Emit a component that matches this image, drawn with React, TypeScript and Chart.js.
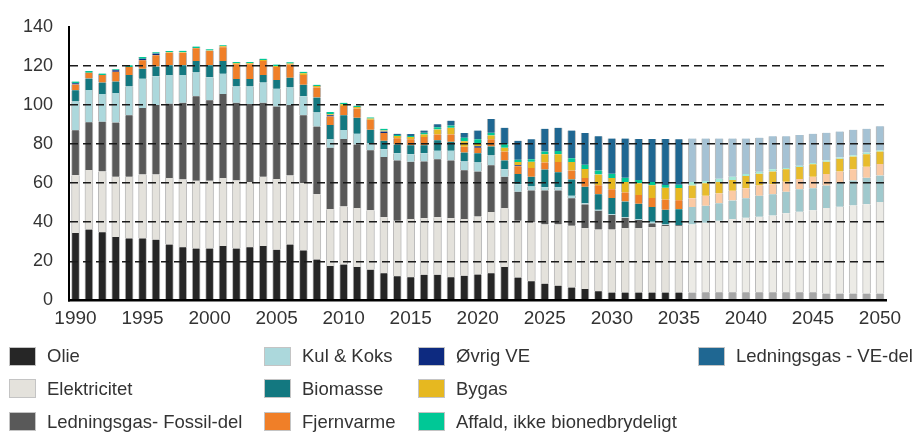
import React, { useEffect, useRef } from "react";
import { Chart, registerables } from "chart.js";

Chart.register(...registerables);

const years = [
  "1990", "1991", "1992", "1993", "1994", "1995", "1996", "1997", "1998", "1999",
  "2000", "2001", "2002", "2003", "2004", "2005", "2006", "2007", "2008", "2009",
  "2010", "2011", "2012", "2013", "2014", "2015", "2016", "2017", "2018", "2019",
  "2020", "2021", "2022", "2023", "2024", "2025", "2026", "2027", "2028", "2029",
  "2030", "2031", "2032", "2033", "2034", "2035", "2036", "2037", "2038", "2039",
  "2040", "2041", "2042", "2043", "2044", "2045", "2046", "2047", "2048", "2049",
  "2050",
];
const xTickLabels = ["1990", "1995", "2000", "2005", "2010", "2015", "2020", "2025", "2030", "2035", "2040", "2045", "2050"];
const yTicks = [0, 20, 40, 60, 80, 100, 120, 140];
const FORECAST_START = 2036;

const olie = [
  34.5, 36.3, 34.9, 32.4, 31.75, 31.75, 31.1, 28.6, 27.25, 26.6,
  26.6, 27.9, 26.6, 27.25, 27.9, 25.9, 28.6, 25.6, 20.9, 17.6,
  18.4, 17.1, 15.75, 13.9, 12.4, 11.9, 13.1, 13.1, 11.9, 12.6,
  13.25, 13.9, 17.1, 11.75, 9.9, 8.6, 7.6, 6.6, 5.9, 4.75,
  4.1, 4.1, 4.1, 4.1, 4.1, 4.1, 4.1, 4.2, 4.2, 4.2,
  4.2, 4.2, 4.2, 4.2, 4.2, 4.2, 3.6, 3.6, 3.6, 3.6,
  3.6,
];
const elektricitet = [
  29.5, 30.35, 31.1, 30.85, 31.5, 32.65, 33.3, 34, 34.65, 34.65,
  34.65, 34.7, 34.8, 33.35, 35.35, 36.2, 35.3, 34.5, 33.35, 29,
  29.7, 30.15, 30.35, 28.7, 28.35, 29.7, 29, 29.5, 30.2, 29,
  29.65, 31.35, 30, 29, 30, 30.3, 31.3, 31.65, 31, 31.5,
  32.15, 32.8, 32.8, 33.3, 34, 34, 34.8, 35.55, 36.55, 37.4,
  38.05, 38.55, 39.2, 40.4, 41.2, 41.9, 43.65, 44.3, 45, 45.65,
  46.8,
];
const ledningsgasFossil = [
  23, 24.4, 25.4, 27.75, 31.5, 34, 35.5, 38, 39.2, 43.15,
  41.15, 43, 39.7, 39.8, 37.85, 37, 36, 34.65, 34.65, 31.5,
  34.5, 32.5, 30.65, 30.8, 30.85, 29.3, 29, 29.65, 29.5, 25,
  23, 23.85, 16.15, 14.85, 16.35, 17.35, 17.35, 14, 12.2, 9.65,
  7.5, 5.35, 4.2, 2, 0.5, 0.3, 0, 0, 0, 0,
  0, 0, 0, 0, 0, 0, 0, 0, 0, 0,
  0,
];
const kulKoks = [
  14.7, 16.6, 14.2, 15.1, 14.65, 15, 14.7, 14.65, 14.15, 12.2,
  11.7, 10.3, 8.3, 9, 10.3, 9.15, 9, 9.65, 7.2, 4.5,
  4.5, 5.5, 3.5, 3.85, 3.65, 3.85, 4.15, 4.35, 5, 4.5,
  4.7, 5, 3.85, 3.8, 2, 1.65, 1.65, 1.35, 0.65, 0.5,
  0.35, 0.35, 0.5, 0.85, 0.3, 0, 0, 0, 0, 0,
  0, 0, 0, 0, 0, 0, 0, 0, 0, 0,
  0,
];
const biomasse = [
  5.8, 5.8, 5.8, 5.8, 5.85, 5, 5, 5, 5, 5.8,
  6.15, 6.5, 3.85, 3.85, 3.85, 4.5, 5, 5.85, 7.65, 7.15,
  7.65, 8.15, 7, 4.35, 4.5, 4.65, 4.15, 5.3, 4.5, 4.5,
  4.65, 4.65, 4.5, 5.2, 5, 9, 7.7, 8.3, 8.35, 7.85,
  8.3, 8, 7.8, 7.5, 7.5, 8.3, 8.85, 8.65, 9, 9.5,
  10, 10.85, 10.85, 11, 11.5, 11.3, 11.5, 12.2, 12.8, 13.5,
  13.5,
];
const fjernvarme = [
  2.9, 3, 3.85, 5, 4.15, 4.35, 5.8, 6.35, 6.35, 6.5,
  7.35, 7, 7.5, 7.5, 7.15, 6.65, 6.7, 5, 5.15, 4.35,
  4.65, 4.7, 5.15, 4, 3.15, 3, 4.2, 3, 3.8, 3,
  2.85, 3.65, 4.5, 4, 4.5, 3.7, 5.15, 4.5, 4.5, 4.65,
  4.5, 4.65, 4.5, 4.65, 5.2, 4.5, 4.5, 5.1, 5, 5,
  5.15, 5.15, 5.15, 5.15, 5.2, 5.85, 5.85, 5.8, 5.7, 5.65,
  5.85,
];
const oevrigVE = [
  0.7, 0, 0, 0.8, 0, 0.85, 0.85, 0, 0, 0,
  0, 0, 0, 0, 0, 0, 0, 0, 0, 0.65,
  0, 0, 0, 0.8, 0, 0, 0, 0, 0, 0,
  0.8, 0, 0, 0.5, 0, 0, 0, 0, 0, 0,
  0, 0, 0, 0, 0, 0, 0, 0, 0, 0,
  0, 0, 0, 0, 0, 0, 0, 0, 0, 0,
  0,
];
const bygas = [
  0, 0, 0, 0, 0, 0, 0, 0.3, 0.3, 0.2,
  0.2, 0.6, 0.5, 0.5, 0.5, 0.5, 0.5, 0.85, 0.7, 0.5,
  0.85, 0.8, 0.6, 0.5, 1.2, 1.2, 1.3, 2.5, 3.35, 2.8,
  1.5, 2, 2, 1.65, 3.15, 4.15, 4, 4.35, 4.65, 5.5,
  5.7, 5.35, 6, 6.5, 6, 6.35, 6.5, 6.4, 5.85, 5.5,
  6.2, 6, 6.5, 6.35, 6.15, 6.35, 6.3, 6.5, 6.5, 6.35,
  6.35,
];
const affald = [
  0.8, 0.8, 0.8, 0.5, 0.85, 0.8, 0.65, 0.6, 0.7, 0.7,
  0.65, 0.5, 0.65, 0.65, 0.7, 0.7, 0.65, 0.8, 0.65, 1.15,
  0.85, 0.7, 0.6, 0.85, 0.5, 0.5, 0.85, 1.2, 1.15, 1.85,
  2, 1.35, 1.8, 1.15, 1.35, 1.35, 1.65, 2, 2.15, 2,
  2.15, 2.15, 1.7, 1.65, 1.5, 1.65, 1.85, 1.2, 1.65, 1.65,
  1, 1, 1.2, 0.65, 0.65, 0.65, 0.7, 0.7, 0.65, 0.85,
  0.65,
];
const ledningsgasVE = [
  0, 0, 0, 0, 0, 0, 0, 0, 0, 0,
  0, 0, 0, 0, 0, 0, 0, 0, 0, 0,
  0, 0, 0, 0, 0.65, 1, 1.15, 1.5, 2.5, 2.35,
  4.5, 7, 8.35, 9.7, 10.15, 11.65, 11.85, 14.15, 16.2, 17.5,
  18, 20, 21, 22, 23.5, 23.2, 22.15, 21.65, 20.5, 19.5,
  18.15, 17.5, 16.8, 16.15, 15.7, 15, 14.15, 13.3, 13, 12.15,
  12.35,
];

const seriesLabels = [
  "Olie", "Elektricitet", "Ledningsgas- Fossil-del", "Kul & Koks", "Biomasse",
  "Fjernvarme", "Øvrig VE", "Bygas", "Affald, ikke bionedbrydeligt", "Ledningsgas - VE-del",
];
const seriesData = [olie, elektricitet, ledningsgasFossil, kulKoks, biomasse, fjernvarme, oevrigVE, bygas, affald, ledningsgasVE];
const seriesColors = ["#262626", "#e4e2dc", "#595959", "#acd8dc", "#137880", "#f07f28", "#0d2a80", "#e6b820", "#00c896", "#1f6792"];
const seriesFaded = ["#a6a6a6", "#ecebe6", "#b0b0b0", "#d3ebed", "#a0c9cd", "#fbcaa4", "#9aa6cc", "#e8bc2c", "#a3ead7", "#a5c2d4"];

// legend layout: column, row for each series
const legendCol = [0, 0, 0, 1, 1, 1, 2, 2, 2, 3];
const legendRow = [0, 1, 2, 0, 1, 2, 0, 1, 2, 0];
const legendColX = [9, 264, 418, 698];
const legendRowY = [356, 388.5, 421.5];

const FONT = '"Liberation Sans", Arial, sans-serif';
const TEXT = "#333333";

export default function App() {
  const ref = useRef<HTMLCanvasElement>(null);

  useEffect(() => {
    const canvas = ref.current;
    if (!canvas) return;
    const datasets = seriesLabels.map((label, i) => ({
      label,
      data: seriesData[i],
      backgroundColor: years.map((y) => (Number(y) >= FORECAST_START ? seriesFaded[i] : seriesColors[i])),
      borderColor: "rgba(150,150,150,0.65)",
      borderWidth: { left: 1, right: 1, top: 0, bottom: 0 },
      barThickness: 8,
      stack: "s",
    }));
    const chart = new Chart(canvas, {
      type: "bar",
      data: { labels: years, datasets },
      options: {
        responsive: false,
        animation: false,
        devicePixelRatio: 1,
        layout: { padding: { left: 0, right: 29.3, top: 20.5, bottom: 102.5 } },
        plugins: {
          legend: { display: false },
          tooltip: { enabled: false },
          title: { display: false },
        },
        scales: {
          x: {
            stacked: true,
            grid: { display: false, drawTicks: false },
            border: { display: true, color: "#000", width: 2.5, z: 1 },
            ticks: {
              autoSkip: false,
              maxRotation: 0,
              minRotation: 0,
              padding: 7,
              color: TEXT,
              font: { family: FONT, size: 19 },
              callback: (_v: any, i: number) => (xTickLabels.includes(years[i]) ? years[i] : ""),
            },
            afterFit: (s: any) => {
              s.height = 30;
            },
          },
          y: {
            stacked: true,
            min: yTicks[0],
            max: yTicks[yTicks.length - 1],
            ticks: {
              stepSize: 20,
              padding: 15.8,
              color: TEXT,
              font: { family: FONT, size: 18 },
            },
            grid: {
              drawTicks: false,
              z: 1,
              lineWidth: 1.5,
              color: (c: any) =>
                c.tick && c.tick.value > 0 && c.tick.value < 140 ? "#1a1a1a" : "rgba(0,0,0,0)",
            },
            border: { display: true, color: "#000", width: 2, dash: [8, 5], z: 1 },
            afterFit: (s: any) => {
              s.width = 68.8;
            },
          },
        },
      },
    } as any);
    return () => chart.destroy();
  }, []);

  return (
    <div style={{ position: "fixed", left: 0, top: 0, width: 916, height: 433, background: "#fff", overflow: "hidden" }}>
      <canvas ref={ref} width={916} height={433} style={{ position: "absolute", left: 0, top: 0, width: 916, height: 433 }} />
      {seriesLabels.map((label, i) => {
        const x = legendColX[legendCol[i]];
        const cy = legendRowY[legendRow[i]];
        return (
          <div key={label}>
            <div
              style={{
                position: "absolute",
                left: x,
                top: cy - 9.5,
                width: 27,
                height: 19,
                boxSizing: "border-box",
                border: "1px solid #c4c4c4",
                background: seriesColors[i],
              }}
            />
            <div
              style={{
                position: "absolute",
                left: x + 38,
                top: cy - 12,
                height: 24,
                lineHeight: "24px",
                fontFamily: FONT,
                fontSize: 18.5,
                color: TEXT,
                whiteSpace: "nowrap",
              }}
            >
              {label}
            </div>
          </div>
        );
      })}
    </div>
  );
}
